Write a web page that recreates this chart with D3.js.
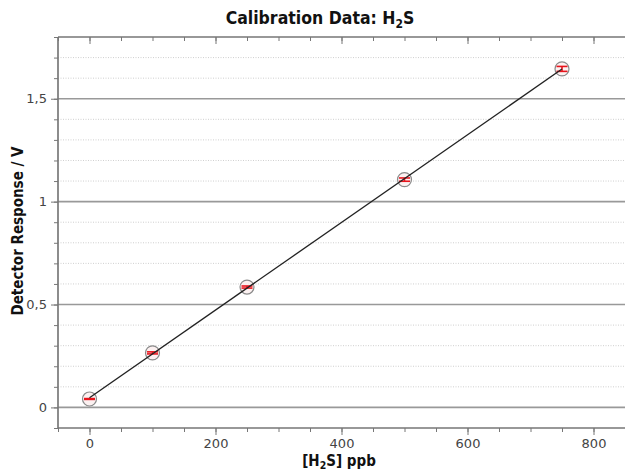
<!DOCTYPE html>
<html><head><meta charset="utf-8">
<script src="https://cdn.jsdelivr.net/npm/d3@7"></script>
<style>
html,body{margin:0;padding:0;background:#fff;}
svg{display:block;font-family:"DejaVu Sans Condensed","DejaVu Sans",Verdana,sans-serif;}
</style></head>
<body>
<svg id="chart" width="625" height="471"></svg>
<script>
// Data
const concentrations = [0, 100, 250, 500, 750];          // [H2S] ppb
const responses      = [0.041, 0.265, 0.585, 1.107, 1.645]; // V
const errors         = [0.002, 0.005, 0.005, 0.008, 0.012]; // V
const xMajorTicks = [0, 200, 400, 600, 800];
const yMajorTicks = [0, 0.5, 1, 1.5];
const yTickLabels = ["0", "0,5", "1", "1,5"];

const svg = d3.select("#chart");
const L = 58, R = 625, T = 37, B = 428;
const x = d3.scaleLinear().domain([-50, 850]).range([L, R]);
const y = d3.scaleLinear().domain([-0.1, 1.8]).range([B, T]);

const xMinor = d3.range(-50, 851, 50);
const yMinor = d3.range(-0.1, 1.8001, 0.1).map(v => +v.toFixed(2));

// minor dotted grid
svg.append("g").selectAll("line").data(yMinor.filter(v => !yMajorTicks.some(m => Math.abs(m - v) < 1e-6) && v > -0.1 && v < 1.8))
  .join("line")
  .attr("x1", L).attr("x2", R)
  .attr("y1", d => y(d)).attr("y2", d => y(d))
  .attr("stroke", "#cfcfcf").attr("stroke-width", 1).attr("stroke-dasharray", "1,1.5");

// major grid
svg.append("g").selectAll("line").data(yMajorTicks).join("line")
  .attr("x1", L).attr("x2", R)
  .attr("y1", d => y(d)).attr("y2", d => y(d))
  .attr("stroke", "#999").attr("stroke-width", 1.6);

// axes
const axisColor = "#777";
const gyMin = svg.append("g").attr("transform", `translate(${L},0)`)
  .call(d3.axisLeft(y).tickValues(yMinor).tickSize(4).tickFormat(""));
const gy = svg.append("g").attr("transform", `translate(${L},0)`)
  .call(d3.axisLeft(y).tickValues(yMajorTicks).tickSize(7).tickPadding(4).tickFormat((d, i) => yTickLabels[i]));
const gxMin = svg.append("g").attr("transform", `translate(0,${B})`)
  .call(d3.axisBottom(x).tickValues(xMinor).tickSize(4).tickFormat(""));
const gx = svg.append("g").attr("transform", `translate(0,${B})`)
  .call(d3.axisBottom(x).tickValues(xMajorTicks).tickSize(7).tickPadding(4).tickFormat(d3.format("d")));
const gtMin = svg.append("g").attr("transform", `translate(0,${T})`)
  .call(d3.axisBottom(x).tickValues(xMinor).tickSize(4).tickFormat(""));
const gt = svg.append("g").attr("transform", `translate(0,${T})`)
  .call(d3.axisBottom(x).tickValues(xMajorTicks).tickSize(7).tickFormat(""));

[gyMin, gy, gxMin, gx, gtMin, gt].forEach(g => {
  g.select(".domain").attr("stroke", axisColor).attr("stroke-width", 1.2);
  g.selectAll(".tick line").attr("stroke", axisColor).attr("stroke-width", 1);
  g.selectAll("text").attr("fill", "#444").style("font-size", "13px")
    .style("font-family", "'DejaVu Sans',Verdana,sans-serif");
});
[gyMin, gy].forEach(g => g.select(".domain").attr("d", `M0,${T}V${B}`));
[gxMin, gx, gtMin, gt].forEach(g => g.select(".domain").attr("d", `M${L},0H${R}`));

// regression line
const mx = d3.mean(concentrations), my = d3.mean(responses);
const sxy = d3.sum(concentrations, (c, i) => (c - mx) * (responses[i] - my));
const sxx = d3.sum(concentrations, c => (c - mx) ** 2);
const slope = sxy / sxx, icpt = my - slope * mx;
const fitX = [d3.min(concentrations), d3.max(concentrations)];

const pts = concentrations.map((c, i) => ({c, r: responses[i], e: errors[i]}));

svg.append("g").selectAll("circle").data(pts).join("circle")
  .attr("cx", d => x(d.c)).attr("cy", d => y(d.r)).attr("r", 7)
  .attr("fill", "#fbeeee").attr("fill-opacity", 0.8)
  .attr("stroke", "#8a8a8a").attr("stroke-width", 1.2);

const eb = svg.append("g").attr("stroke", "#e8141c").attr("stroke-width", 1.6);
pts.forEach(d => {
  const cx = x(d.c), cw = 5.5;
  eb.append("line").attr("x1", cx).attr("x2", cx).attr("y1", y(d.r - d.e)).attr("y2", y(d.r + d.e));
  eb.append("line").attr("x1", cx - cw).attr("x2", cx + cw).attr("y1", y(d.r - d.e)).attr("y2", y(d.r - d.e));
  eb.append("line").attr("x1", cx - cw).attr("x2", cx + cw).attr("y1", y(d.r + d.e)).attr("y2", y(d.r + d.e));
});

svg.append("line")
  .attr("x1", x(fitX[0])).attr("y1", y(icpt + slope * fitX[0]))
  .attr("x2", x(fitX[1])).attr("y2", y(icpt + slope * fitX[1]))
  .attr("stroke", "#222").attr("stroke-width", 1.3);

// title
const title = svg.append("text").attr("x", 320).attr("y", 24).attr("text-anchor", "middle")
  .style("font-size", "17.5px").style("font-weight", "bold").attr("fill", "#111");
title.append("tspan").text("Calibration Data: H");
title.append("tspan").attr("dy", 4).style("font-size", "12px").text("2");
title.append("tspan").attr("dy", -4).text("S");

// x label
const xl = svg.append("text").attr("x", 339).attr("y", 466).attr("text-anchor", "middle")
  .style("font-size", "15px").style("font-weight", "bold").attr("fill", "#111");
xl.append("tspan").text("[H");
xl.append("tspan").attr("dy", 3).style("font-size", "10.5px").text("2");
xl.append("tspan").attr("dy", -3).text("S] ppb");

// y label
svg.append("text").attr("transform", "translate(23,231) rotate(-90)").attr("text-anchor", "middle")
  .style("font-size", "15px").style("font-weight", "bold").attr("fill", "#111")
  .text("Detector Response / V");
</script>
</body></html>
